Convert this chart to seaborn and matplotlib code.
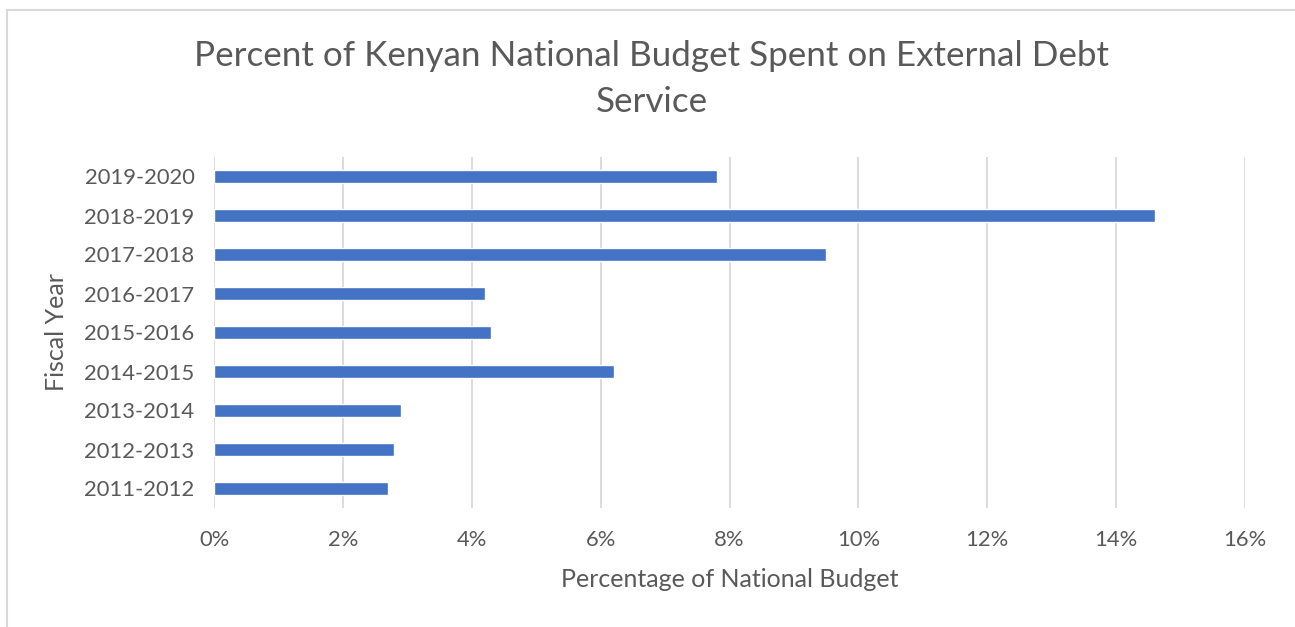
import pandas as pd
import matplotlib
matplotlib.use('Agg')
import matplotlib.pyplot as plt
import seaborn as sns
from matplotlib.ticker import PercentFormatter

years = ['2019-2020', '2018-2019', '2017-2018', '2016-2017', '2015-2016',
         '2014-2015', '2013-2014', '2012-2013', '2011-2012']
pct = [7.8, 14.6, 9.5, 4.2, 4.3, 6.2, 2.9, 2.8, 2.7]
xticks = [0, 2, 4, 6, 8, 10, 12, 14, 16]

df = pd.DataFrame({'year': years, 'pct': pct})

sns.set_style('white')
plt.rcParams['font.family'] = ['Lato', 'DejaVu Sans']
txt = '#595959'

fig = plt.figure(figsize=(12.95, 6.27), dpi=100)
ax = fig.add_axes([214 / 1295, 1 - 508 / 627, (1245 - 214) / 1295, (508 - 157) / 627])

sns.barplot(data=df, x='pct', y='year', order=years, color='#4472C4',
            width=0.35, saturation=1, ax=ax, zorder=3)

ax.set_xlim(0, 16)
ax.set_ylim(len(years) - 0.5, -0.5)
ax.set_xticks(xticks)
ax.xaxis.set_major_formatter(PercentFormatter(decimals=0))
ax.grid(axis='x', color='#D9D9D9', linewidth=1.3, zorder=0)
for s in ax.spines.values():
    s.set_visible(False)
ax.tick_params(axis='both', length=0, labelsize=15.8, labelcolor=txt)
ax.tick_params(axis='x', pad=16)
ax.tick_params(axis='y', pad=14)

ax.set_xlabel('Percentage of National Budget', fontsize=18, color=txt, labelpad=13)
ax.set_ylabel('Fiscal Year', fontsize=18, color=txt, labelpad=12)

fig.text(0.503, 1 - 79 / 627, 'Percent of Kenyan National Budget Spent on External Debt\nService',
         ha='center', va='center', fontsize=25.2, color=txt, linespacing=1.55)

# chart border
fig.add_artist(plt.Rectangle((7 / 1295, -0.1), 1.2, 1 - 10 / 627 + 0.1,
                             transform=fig.transFigure, fill=False,
                             edgecolor='#D9D9D9', linewidth=1.5))

fig.savefig('out.png', dpi=100)
